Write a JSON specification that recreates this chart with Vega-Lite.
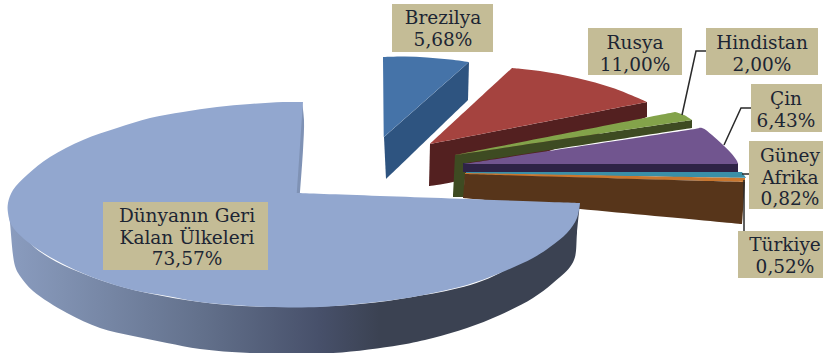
{
  "$schema": "https://vega.github.io/schema/vega-lite/v6.json",
  "width": 823,
  "height": 353,
  "padding": 0,
  "autosize": {"type": "fit", "contains": "padding"},
  "background": "white",
  "view": {"stroke": null},
  "datasets": {
    "outlines": [
      {"part": "Brezilya side", "px": [469,469,468,468,386,386,384,384], "py": [62,62,100,100,179,179,137,137]},
      {"part": "Brezilya top", "px": [383,383,405,427,450,469,469,384,384], "py": [57,57,56.5,57.5,59.5,62,62,137,137]},
      {"part": "Rusya side", "px": [647,647,647,647,453,429,429,430,430], "py": [102,102,117,117,182,186,186,144,144]},
      {"part": "Rusya top", "px": [512,512,540,577,613,647,647,430,430], "py": [68,68,71,78,88,102,102,144,144]},
      {"part": "Hindistan side", "px": [455,455,692,692,692,692,466,466,464,464,453,453], "py": [155,155,120,120,128,128,163,163,197,197,197,197]},
      {"part": "Hindistan top", "px": [455,455,675,675,684,692,692], "py": [155,155,112,112,115,120,120]},
      {"part": "Çin side", "px": [463,463,738,738,738,738,463,463], "py": [163,163,163,163,172,172,172,172]},
      {"part": "Çin top", "px": [463,463,695,702,712,722,731,737,738,738], "py": [164,164,129,128,135,144,153,161,164,164]},
      {"part": "Güney Afrika", "px": [466,466,742,742,746,746,466,466], "py": [172,172,172,172,178,178,174,174]},
      {"part": "Türkiye edge", "px": [465,465,745,745,745,745,465,465], "py": [173,173,178,178,182,182,175,175]},
      {"part": "Türkiye side", "px": [465,465,745,745,742,742,463,463], "py": [174,174,182,182,224,224,198,198]},
      {"part": "Geri Kalan wall", "px": [302,302,304,303,300,300,295,295], "py": [102,102,120,150,193,193,193,193]}
    ],
    "rest_side": [
      {"part": "Geri Kalan side",
       "px": [8,8,10,15,20,33,67,100,133,167,200,250,333,400,433,467,500,533,553,570,575,577,580,580,500,400,300,200,100,33],
       "py": [205,205,223,266,276,291,313,328,336,343,349,353,353,345,338,328,315,298,283,267,257,233,203,203,273,299,307,302,280,246]}
    ],
    "rest_top": [
      {"part": "Geri Kalan top",
       "px": [303,303,283,250,217,183,150,117,83,50,27,13,8,8,12,33,67,100,133,167,200,233,267,320,357,400,433,467,500,533,550,567,577,580,580,297,297],
       "py": [102,102,102,104,107,112,118,128,140,157,175,190,203,213,226,246,266,280,290,296,302,305,307,307,304,299,293,285,273,258,247,233,218,203,203,193,193]}
    ],
    "labels": [
      {"name": "Brezilya", "share": 5.68, "lines": ["Brezilya", "5,68%"], "x": 392, "x2": 493, "y": 4, "y2": 52, "cx": 443, "cy": 18},
      {"name": "Rusya", "share": 11.0, "lines": ["Rusya", "11,00%"], "x": 588, "x2": 682, "y": 28, "y2": 75, "cx": 635, "cy": 43},
      {"name": "Hindistan", "share": 2.0, "lines": ["Hindistan", "2,00%"], "x": 706, "x2": 818, "y": 28, "y2": 75, "cx": 762, "cy": 43},
      {"name": "Çin", "share": 6.43, "lines": ["Çin", "6,43%"], "x": 751, "x2": 822, "y": 84, "y2": 132, "cx": 786, "cy": 99},
      {"name": "Güney Afrika", "share": 0.82, "lines": ["Güney", "Afrika", "0,82%"], "x": 749, "x2": 823, "y": 141, "y2": 209, "cx": 790, "cy": 156},
      {"name": "Türkiye", "share": 0.52, "lines": ["Türkiye", "0,52%"], "x": 738, "x2": 823, "y": 231, "y2": 278, "cx": 785, "cy": 245},
      {"name": "Dünyanın Geri Kalan Ülkeleri", "share": 73.57, "lines": ["Dünyanın Geri", "Kalan Ülkeleri", "73,57%"], "x": 103, "x2": 268, "y": 202, "y2": 270, "cx": 187, "cy": 216}
    ],
    "leaders": [
      {"name": "Hindistan", "px": [706,696,682], "py": [51,51,115]},
      {"name": "Çin", "px": [751,741,724], "py": [108,108,145]},
      {"name": "Güney Afrika", "px": [749,742], "py": [174,174]},
      {"name": "Türkiye", "px": [744,744], "py": [180,231]}
    ]
  },
  "data": {"name": "outlines"},
  "encoding": {
    "x": {"field": "x", "type": "quantitative", "axis": null, "scale": {"domain": [0,823], "nice": false, "zero": false}},
    "y": {"field": "y", "type": "quantitative", "axis": null, "scale": {"domain": [353,0], "nice": false, "zero": false}}
  },
  "layer": [
    {
      "transform": [{"flatten": ["px","py"], "as": ["x","y"]}],
      "mark": {"type": "line", "strokeWidth": 0, "interpolate": "catmull-rom-closed", "clip": true},
      "encoding": {
        "order": {"value": null},
        "detail": {"field": "part"},
        "fill": {
          "field": "part", "type": "nominal", "legend": null,
          "scale": {
            "domain": ["Brezilya side","Brezilya top","Rusya side","Rusya top","Hindistan side","Hindistan top","Çin side","Çin top","Güney Afrika","Türkiye edge","Türkiye side","Geri Kalan wall"],
            "range": ["#2e5480","#4573a8","#532020","#a5433f","#3e4b22","#83a34a","#2e2346","#71558f","#3a8fa8","#c9772f","#57351a","#7f92b5"]
          }
        }
      }
    },
    {
      "data": {"name": "leaders"},
      "transform": [{"flatten": ["px","py"], "as": ["x","y"]}],
      "mark": {"type": "line", "stroke": "#2a2a2a", "strokeWidth": 1.5},
      "encoding": {"order": {"value": null}, "detail": {"field": "name"}}
    },
    {
      "data": {"name": "rest_side"},
      "transform": [{"flatten": ["px","py"], "as": ["x","y"]}],
      "mark": {
        "type": "line", "strokeWidth": 0, "interpolate": "catmull-rom-closed", "clip": true,
        "fill": {
          "gradient": "linear", "x1": 0, "y1": 0, "x2": 1, "y2": 0,
          "stops": [
            {"offset": 0, "color": "#8a9cbf"},
            {"offset": 0.1, "color": "#7f90b0"},
            {"offset": 0.335, "color": "#63718c"},
            {"offset": 0.545, "color": "#47506a"},
            {"offset": 0.65, "color": "#3b4252"},
            {"offset": 1, "color": "#3b4252"}
          ]
        }
      },
      "encoding": {"order": {"value": null}}
    },
    {
      "data": {"name": "rest_top"},
      "transform": [{"flatten": ["px","py"], "as": ["x","y"]}],
      "mark": {"type": "line", "strokeWidth": 0, "interpolate": "catmull-rom-closed", "fill": "#92a7cf"},
      "encoding": {"order": {"value": null}}
    },
    {
      "data": {"name": "labels"},
      "mark": {"type": "rect", "fill": "#c4bc96"},
      "encoding": {"x2": {"field": "x2"}, "y2": {"field": "y2"}}
    },
    {
      "data": {"name": "labels"},
      "mark": {"type": "text", "font": "DejaVu Serif", "fontSize": 18.5, "lineHeight": 21.5, "align": "center", "baseline": "middle", "fill": "#1c2533"},
      "encoding": {
        "x": {"field": "cx", "type": "quantitative", "axis": null, "scale": {"domain": [0,823], "nice": false, "zero": false}},
        "y": {"field": "cy", "type": "quantitative", "axis": null, "scale": {"domain": [353,0], "nice": false, "zero": false}},
        "text": {"field": "lines"}
      }
    }
  ]
}
